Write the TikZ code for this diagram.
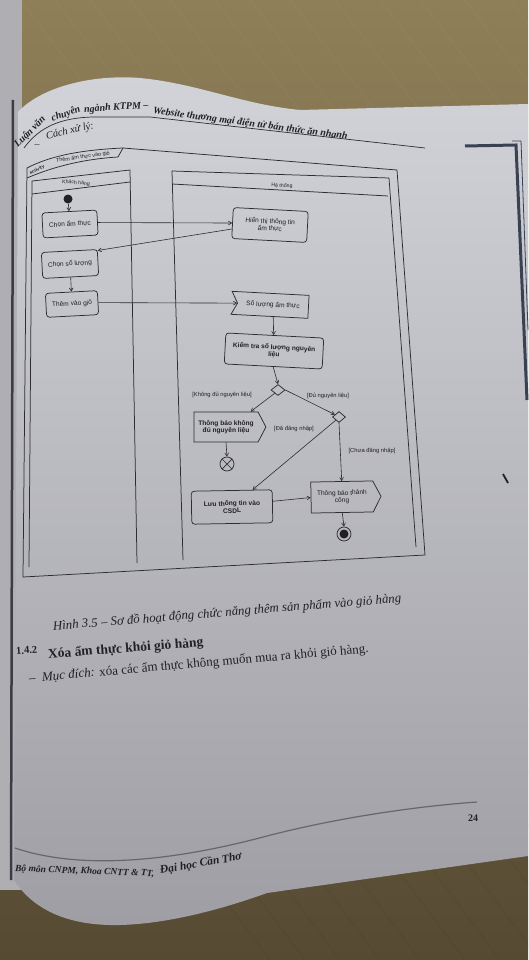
\documentclass[tikz,border=0pt]{standalone}
\usepackage{fontspec}
\setmainfont{Liberation Serif}
\newfontfamily\uisans{Liberation Sans}
\usetikzlibrary{arrows.meta,shapes.symbols,shapes.geometric}
\definecolor{wood}{HTML}{8E7F58}
\definecolor{woodmid}{HTML}{7A6C4B}
\definecolor{wooddark}{HTML}{564A33}
\definecolor{paper}{HTML}{D2D3D9}
\definecolor{papermid}{HTML}{C3C4CA}
\definecolor{paperdark}{HTML}{9E9EA4}
\definecolor{ink}{HTML}{202026}
\definecolor{rule}{HTML}{2C2C32}
\definecolor{frameblue}{HTML}{3A4152}
\definecolor{binding}{HTML}{3C3C44}
\definecolor{edgegray}{HTML}{AEAEB3}
\definecolor{footrule}{HTML}{66666C}

\tikzset{
  diagfont/.style={font=\uisans\fontsize{6.6}{7.2}\selectfont},
  diagbold/.style={font=\uisans\bfseries\fontsize{6.6}{7.2}\selectfont},
  actbox/.style={draw=rule, line width=0.75pt, rounded corners=3pt, align=center,
    inner sep=1pt, diagfont, text=ink},
  sendbox/.style={draw=rule, line width=0.75pt, shape=signal, signal to=east,
    signal from=nowhere, signal pointer angle=125, align=center, inner sep=1pt,
    diagfont, text=ink},
  recvbox/.style={draw=rule, line width=0.75pt, shape=signal, signal from=west,
    signal to=nowhere, signal pointer angle=125, align=center, inner sep=1pt,
    diagfont, text=ink},
  choice/.style={draw=rule, line width=0.75pt, diamond, minimum width=14pt,
    minimum height=11pt, inner sep=0pt},
  startdot/.style={circle, fill=ink, minimum size=9pt, inner sep=0pt},
  enddot/.style={circle, draw=rule, line width=0.75pt, minimum size=14pt, inner sep=0pt},
  flowarrow/.style={draw=rule, line width=0.6pt, -{Straight Barb[length=3.2pt,width=3.8pt]}},
  guard/.style={font=\uisans\fontsize{5.8}{6.5}\selectfont, text=ink, inner sep=0.5pt},
  lanename/.style={font=\uisans\fontsize{5.2}{6}\selectfont, text=ink, inner sep=0pt},
  lanebar/.style={draw=rule, line width=0.75pt},
  pagetext/.style={text=ink, inner sep=0pt},
  headfont/.style={font=\bfseries\itshape\fontsize{10}{11}\selectfont},
}

\begin{document}
\begin{tikzpicture}[x=1pt,y=-1pt]
\useasboundingbox (0,0) rectangle (528,960);

% desk surface
\shade[top color=wood, middle color=woodmid, bottom color=wooddark] (0,0) rectangle (528,960);
\foreach \s in {20,55,90,130,170,215,250,290,335,380,420,465,510,560,610,660,720}{
  \draw[white, opacity=0.025, line width=1.5pt] (\s,0) -- (\s+200,260);
  \draw[black, opacity=0.035, line width=1.2pt] (\s+10,640) -- (\s+250,960);
}

% sheet underneath on the left and the binding
\fill[edgegray] (0,0) rectangle (22,890);
\draw[binding, line width=2.5pt] (13,100) -- (11,880);

% the page
\shade[top color=paper, middle color=papermid, bottom color=paperdark]
  (18,112) .. controls (40,88) and (90,74) .. (140,78)
  .. controls (200,84) and (240,104) .. (300,110) -- (528,104) -- (528,856)
  -- (267,893) .. controls (220,910) and (160,926) .. (110,925)
  .. controls (60,924) and (30,905) .. (14,880) -- cycle;

% frame of the facing page
\draw[frameblue, line width=3pt] (465,146) -- (516,145) -- (527,400);
\draw[frameblue, line width=0.8pt] (512,141) -- (521,141) -- (528,330);
\draw[ink, line width=1.8pt] (503,474) -- (508,483);

% running header, bent with the page corner
\node[pagetext, headfont, rotate=45] (hdrA) at (30,132) {Luận văn};
\node[pagetext, headfont, rotate=20] (hdrB) at (66,114) {chuyên};
\node[pagetext, headfont, rotate=4, anchor=west] (hdrC) at (84,110) {ngành KTPM --};
\node[pagetext, headfont, rotate=-7.6, anchor=west] (hdrD) at (153,111)
  {Website thương mại điện tử bán thức ăn nhanh};
\draw[rule, line width=0.7pt] (24,148) .. controls (40,126) and (62,118) .. (92,117)
  -- (150,117) -- (425,148);

\node[pagetext, font=\itshape\fontsize{10}{11}\selectfont] (dash) at (37,146) {--};
\node[pagetext, rotate=13, anchor=west, font=\itshape\fontsize{10.5}{11}\selectfont] (howto) at (46,137) {Cách xử lý:};

% ---------- activity diagram ----------
% outer frame and its name tab
\draw[lanebar] (123,148) -- (397,170) -- (425,555) -- (23,577) -- (27,168)
  .. controls (50,156) and (80,150) .. (123,148);
\draw[lanebar] (27,178) .. controls (55,166) and (85,159) .. (118,157) -- (123,148);
\node[pagetext, rotate=25, font=\uisans\bfseries\fontsize{4.5}{5}\selectfont] (tabkw) at (37,170) {activity};
\node[pagetext, rotate=8, font=\uisans\fontsize{5.4}{6}\selectfont] (tab) at (83,157) {Thêm ẩm thực vào giỏ};

% swimlanes
\draw[lanebar] (29,567) -- (32,181) -- (130,170) -- (137,563);
\draw[lanebar] (32,194) -- (130,182);
\node[lanename, rotate=-5] (laneA) at (76,183) {Khách hàng};
\draw[lanebar] (183,560) -- (172,171) -- (389,178) -- (416,547);
\draw[lanebar] (172,184) -- (388,196);
\node[lanename, rotate=-3] (laneB) at (282,186) {Hệ thống};

% actions
\node[startdot] (init) at (68,199) {};
\node[actbox, rotate=3, minimum width=55pt, minimum height=25pt] (chon) at (70,224) {Chọn ẩm thực};
\node[actbox, rotate=-3, minimum width=75pt, minimum height=31pt] (hien) at (270,225) {Hiển thị thông tin\\ẩm thực};
\node[actbox, rotate=3, minimum width=56pt, minimum height=26pt] (chonsl) at (70,264) {Chọn số lượng};
\node[actbox, rotate=3, minimum width=52pt, minimum height=24pt] (them) at (72,304) {Thêm vào giỏ};
\node[recvbox, rotate=-3, minimum width=77pt, minimum height=23pt] (soluong) at (273,305) {Số lượng ẩm thực};
\node[actbox, diagbold, rotate=-3, minimum width=98pt, minimum height=31pt] (kiemtra) at (274,351) {Kiểm tra số lượng nguyên\\liệu};
\node[choice] (d1) at (278,390) {};
\node[choice, minimum width=13pt] (d2) at (339,417) {};
\node[sendbox, diagbold, minimum width=72pt, minimum height=30pt] (tbk) at (226,427) {Thông báo không\\đủ nguyên liệu};
\node[enddot] (ff) at (227,464) {};
\draw[rule, line width=0.7pt] (ff.45) -- (ff.225) (ff.135) -- (ff.315);
\node[actbox, diagbold, rotate=1, minimum width=81pt, minimum height=33pt] (luu) at (232,507) {Lưu thông tin vào\\CSDL};
\node[sendbox, rotate=1, minimum width=70pt, minimum height=31pt] (tbtc) at (342,497) {Thông báo thành\\công};
\node[enddot] (fin) at (344,534) {};
\fill[ink] (fin.center) circle (4.5pt);

% guards
\node[guard] (gKhong) at (222,395) {[Không đủ nguyên liệu]};
\node[guard] (gDu) at (328,396) {[Đủ nguyên liệu]};
\node[guard] (gDa) at (294,429) {[Đã đăng nhập]};
\node[guard] (gChua) at (372,451) {[Chưa đăng nhập]};

% control flows
\draw[flowarrow] (init) -- (chon);
\draw[flowarrow] (chon.east) -- (hien.west);
\draw[flowarrow] (hien.189) -- (chonsl.23);
\draw[flowarrow] (chonsl) -- (them);
\draw[flowarrow] (them.east) -- (soluong.west);
\draw[flowarrow] (soluong) -- (kiemtra);
\draw[flowarrow] (kiemtra.south) -- (d1.north);
\draw[flowarrow] (d1.225) -- (tbk.32);
\draw[flowarrow] (d1.east) -- (d2.150);
\draw[flowarrow] (tbk.south) -- (ff.north);
\draw[flowarrow] (d2.225) -- (luu.39);
\draw[flowarrow] (d2.south) -- (tbtc.north);
\draw[flowarrow] (luu.7) -- (tbtc.west);
\draw[flowarrow] (tbtc.south) -- (fin.north);

% ---------- text below the diagram ----------
\node[pagetext, rotate=4.6, anchor=west, font=\itshape\fontsize{12.8}{13}\selectfont] (caption) at (53,627)
  {Hình 3.5 -- Sơ đồ hoạt động chức năng thêm sản phẩm vào giỏ hàng};
\node[pagetext, rotate=4, anchor=west, font=\bfseries\fontsize{10.5}{11}\selectfont] (secno) at (16,651) {1.4.2};
\node[pagetext, rotate=4.4, anchor=west, font=\bfseries\fontsize{13.5}{14}\selectfont] (sectitle) at (48,655)
  {Xóa ẩm thực khỏi giỏ hàng};
\node[pagetext, rotate=5, anchor=west, font=\fontsize{13}{14}\selectfont] (purpose) at (29,679)
  {--\enspace\textit{Mục đích:} xóa các ẩm thực không muốn mua ra khỏi giỏ hàng.};

% footer
\draw[footrule, line width=1.2pt] (15,848) .. controls (80,870) and (170,862) .. (267,836)
  .. controls (340,817) and (420,806) .. (477,802);
\node[pagetext, font=\bfseries\fontsize{10}{11}\selectfont] (pageno) at (473,818) {24};
\node[pagetext, rotate=-2, anchor=west, font=\bfseries\itshape\fontsize{9.5}{10}\selectfont] (footA) at (15,869)
  {Bộ môn CNPM, Khoa CNTT \& TT,};
\node[pagetext, rotate=10, anchor=west, font=\bfseries\itshape\fontsize{11.5}{12}\selectfont] (footB) at (160,871)
  {Đại học Cần Thơ};
\end{tikzpicture}
\end{document}
